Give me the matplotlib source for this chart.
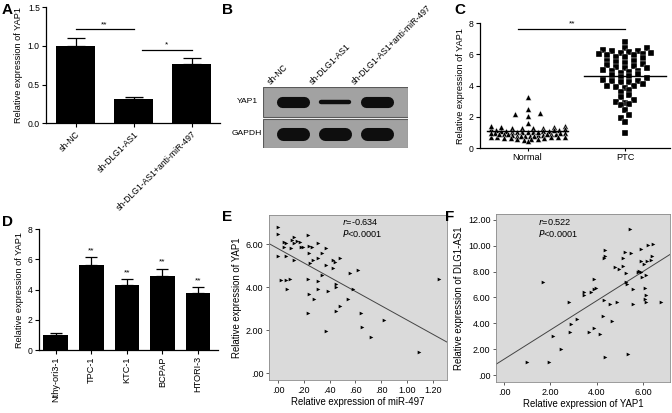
"""
Multi-panel YAP1 figure (bars, blot, scatter dot plot, correlations)
"""
import numpy as np
import matplotlib
matplotlib.use("Agg")
import matplotlib.pyplot as plt
from matplotlib.patches import Rectangle

# ---- data ----
a_groups = ["sh-NC", "sh-DLG1-AS1", "sh-DLG1-AS1+anti-miR-497"]
a_mean = [1.00, 0.31, 0.77]
a_err = [0.10, 0.035, 0.08]

blot_lanes = ["sh-NC", "sh-DLG1-AS1", "sh-DLG1-AS1+anti-miR-497"]
blot_rows = ["YAP1", "GAPDH"]
yap1_band = [1.0, 0.4, 1.0]
gapdh_band = [1.0, 1.0, 1.0]

c_groups = ["Normal", "PTC"]
c_normal = [3.28, 2.52, 2.18, 2.08, 2.22, 1.58, 1.42, 1.35, 1.30, 1.28,
            1.25, 1.25, 1.22, 1.20, 1.18, 1.15, 1.12, 1.10, 1.10, 1.08,
            1.05, 1.05, 1.02, 1.00, 1.00, 0.98, 0.95, 0.95, 0.92, 0.90,
            0.90, 0.88, 0.85, 0.85, 0.82, 0.80, 0.80, 0.78, 0.75, 0.75,
            0.72, 0.70, 0.70, 0.68, 0.65, 0.65, 0.62, 0.60, 0.58, 0.55,
            0.50, 0.42, 1.38, 1.32, 1.15, 0.98, 0.88, 0.72, 1.05, 0.92]
c_ptc = [6.78, 6.42, 6.38, 6.30, 6.22, 6.18, 6.12, 6.10, 6.05, 6.02,
         6.00, 5.98, 5.95, 5.85, 5.80, 5.75, 5.60, 5.55, 5.50, 5.45,
         5.40, 5.30, 5.25, 5.20, 5.15, 5.10, 5.00, 4.95, 4.90, 4.85,
         4.80, 4.75, 4.70, 4.60, 4.55, 4.45, 4.35, 4.30, 4.30, 4.25,
         4.20, 4.10, 4.00, 3.95, 3.90, 3.85, 3.70, 3.60, 3.40, 3.25,
         3.10, 2.95, 2.90, 2.80, 2.75, 2.45, 2.10, 1.95, 1.65, 0.98]

d_lines = ["Nthy-ori3-1", "TPC-1", "KTC-1", "BCPAP", "HTORI-3"]
d_mean = [1.00, 5.65, 4.28, 4.88, 3.77]
d_err = [0.12, 0.50, 0.40, 0.50, 0.40]

e_mir497 = [0.00, 0.00, 0.00, 0.02, 0.05, 0.05, 0.06, 0.06, 0.06, 0.07,
            0.09, 0.10, 0.11, 0.12, 0.12, 0.12, 0.15, 0.17, 0.18, 0.19,
            0.23, 0.23, 0.23, 0.24, 0.24, 0.24, 0.25, 0.26, 0.27, 0.28,
            0.31, 0.31, 0.31, 0.31, 0.34, 0.34, 0.37, 0.37, 0.37, 0.39,
            0.43, 0.43, 0.44, 0.45, 0.45, 0.45, 0.48, 0.48, 0.54, 0.56,
            0.58, 0.62, 0.64, 0.65, 0.72, 0.82, 1.09, 1.25]
e_yap1 = [6.82, 6.47, 5.46, 4.34, 5.89, 6.12, 6.08, 5.46, 4.34, 3.91,
          4.37, 5.81, 6.20, 6.33, 6.08, 5.27, 6.14, 6.12, 5.89, 5.89,
          6.43, 4.37, 2.82, 5.94, 3.69, 5.58, 5.15, 5.89, 5.27, 3.47,
          5.35, 6.05, 4.29, 3.91, 4.57, 5.58, 5.81, 5.04, 1.98, 3.83,
          5.27, 4.88, 5.16, 4.14, 4.00, 2.91, 5.35, 3.13, 3.47, 4.68,
          3.91, 4.81, 2.82, 2.16, 1.71, 2.48, 1.01, 4.37]

f_yap1 = [5.44, 6.45, 6.23, 5.91, 5.22, 5.47, 4.35, 4.36, 4.33, 5.12,
          6.40, 6.16, 5.91, 6.04, 6.35, 4.79, 4.98, 5.12, 5.25, 5.83,
          5.91, 5.94, 6.13, 5.77, 3.88, 1.67, 5.25, 5.32, 5.58, 3.97,
          3.88, 3.76, 3.45, 3.45, 6.09, 6.13, 6.09, 6.13, 5.55, 4.89,
          4.58, 4.33, 2.81, 6.78, 3.14, 2.89, 4.29, 4.68, 2.83, 3.68,
          3.90, 4.14, 2.13, 2.46, 0.99, 1.96, 4.36, 5.34]
f_dlg1 = [11.28, 10.14, 10.06, 9.73, 9.52, 9.42, 9.63, 9.16, 9.08, 9.03,
          9.16, 8.83, 8.83, 8.59, 8.90, 8.34, 8.18, 8.41, 7.85, 8.05,
          7.97, 7.61, 7.72, 8.00, 7.43, 7.23, 7.17, 7.07, 6.66, 6.76,
          6.66, 6.40, 6.40, 6.19, 6.76, 6.19, 5.91, 5.63, 5.52, 5.63,
          5.52, 5.83, 5.65, 5.65, 4.34, 3.97, 4.54, 4.21, 3.33, 3.30,
          3.66, 3.15, 2.99, 2.06, 1.03, 1.03, 1.37, 1.63]

plt.rcParams['font.family'] = ['Liberation Sans', 'DejaVu Sans']
plt.rcParams['axes.linewidth'] = 0.9

FS_TICK = 6.2
FS_LAB = 6.6


def prism_axes(ax):
    """GraphPad-like axes: left/bottom spines only"""
    for s in ("top", "right"):
        ax.spines[s].set_visible(False)
    ax.tick_params(length=3, width=0.8, labelsize=FS_TICK, pad=1.5)


def spss_axes(ax):
    """SPSS-like scatter panel with grey plot area"""
    ax.set_facecolor('#dadada')
    for s in ax.spines.values():
        s.set_color('#8a8a8a')
        s.set_linewidth(0.6)
    ax.tick_params(length=2.5, width=0.6, labelsize=FS_TICK + 0.3, pad=1.5,
                   color='#444444')


def dot_offsets(vals, binw, step, maxw):
    """Horizontal offsets for a scatter dot plot (points binned by value)"""
    vals = np.asarray(vals, dtype=float)
    offs = np.zeros(len(vals))
    bins = np.floor(vals / binw).astype(int)
    for bb in np.unique(bins):
        idx = np.where(bins == bb)[0]
        idx = idx[np.argsort(vals[idx])]
        n = len(idx)
        if n == 1:
            continue
        s = min(step, 2 * maxw / (n - 1))
        pos = (np.arange(n) - (n - 1) / 2) * s
        pos = pos[np.argsort(np.abs(pos), kind='stable')]
        offs[idx] = pos
    return offs


fig = plt.figure(figsize=(6.72, 4.13), dpi=100)

# ---- panel A ----
ax_a = fig.add_axes([0.0685, 0.7015, 0.2589, 0.2809])
xa = np.arange(len(a_groups))
ax_a.bar(xa, a_mean, width=0.67, color='black', zorder=2)
ax_a.errorbar(xa, a_mean, yerr=[np.zeros(len(a_err)), a_err], fmt='none',
              ecolor='black', elinewidth=0.9, capsize=6.5, capthick=0.9, zorder=1)
prism_axes(ax_a)
ax_a.set_xlim(-0.51, 2.49)
ax_a.set_ylim(0, 1.5)
ax_a.set_yticks([0, 0.5, 1.0, 1.5])
ax_a.set_yticklabels(["0.0", "0.5", "1.0", "1.5"])
ax_a.set_xticks(xa)
ax_a.set_xticklabels(a_groups, rotation=45, ha='right', va='top',
                     rotation_mode='anchor')
ax_a.set_ylabel("Relative expression of YAP1", fontsize=FS_LAB, labelpad=3)
ax_a.plot([0, 1], [1.215, 1.215], color='black', lw=0.9)
ax_a.text(0.5, 1.23, "**", ha='center', va='bottom', fontsize=6)
ax_a.plot([1.15, 2], [0.95, 0.95], color='black', lw=0.9)
ax_a.text(1.575, 0.965, "*", ha='center', va='bottom', fontsize=6)

# ---- panel B (western blot) ----
ax_b = fig.add_axes([0.3914, 0.641, 0.2158, 0.1477])
ax_b.set_xlim(-0.71, 2.73)
ax_b.set_ylim(0, 1)
ax_b.axis('off')
row_span = {"YAP1": (0.518, 1.0), "GAPDH": (0.0, 0.48)}
row_bands = {"YAP1": yap1_band, "GAPDH": gapdh_band}
row_lw = {"YAP1": 8.0, "GAPDH": 9.4}
for row in blot_rows:
    y0, y1 = row_span[row]
    ax_b.add_patch(Rectangle((0, y0), 1, y1 - y0, transform=ax_b.transAxes,
                             facecolor='#a2a2a2', edgecolor='#5a5a5a', lw=0.8))
    yc = (y0 + y1) / 2
    for i, v in enumerate(row_bands[row]):
        lw = row_lw[row] * v
        half = (33 - lw / 0.72) / 2 / 42.25
        ax_b.plot([i - half, i + half], [yc, yc], color='#0e0e0e', lw=lw,
                  solid_capstyle='round')
    ax_b.text(-0.109, yc, row, transform=ax_b.transAxes, ha='center',
              va='center', fontsize=6.1)
for i, lane in enumerate(blot_lanes):
    ax_b.text(i - 0.5, 1.02, lane, ha='left', va='bottom', rotation=45,
              rotation_mode='anchor', fontsize=FS_TICK, clip_on=False)

# ---- panel C (scatter dot plot) ----
ax_c = fig.add_axes([0.714, 0.6416, 0.2827, 0.3027])
c_style = [('^', 17, 0.25, 0.13, 0.38), ('s', 16, 0.32, 0.09, 0.33)]
for i, vals in enumerate([c_normal, c_ptc]):
    mk, sz, binw, step, maxw = c_style[i]
    xs = i + dot_offsets(vals, binw, step, maxw)
    ax_c.scatter(xs, vals, marker=mk, s=sz, color='black',
                 edgecolors='white', linewidths=0.25, zorder=2)
    ax_c.plot([i - 0.42, i + 0.42], [np.mean(vals)] * 2, color='black',
              lw=1.0, zorder=3)
prism_axes(ax_c)
ax_c.set_xlim(-0.49, 1.46)
ax_c.set_ylim(0, 8)
ax_c.set_yticks([0, 2, 4, 6, 8])
ax_c.set_xticks([0, 1])
ax_c.set_xticklabels(c_groups, fontsize=FS_LAB)
ax_c.tick_params(axis='x', length=2)
ax_c.set_ylabel("Relative expression of YAP1", fontsize=FS_LAB, labelpad=3)
ax_c.plot([-0.1, 1.0], [7.6, 7.6], color='black', lw=0.9, clip_on=False)
ax_c.text(0.46, 7.7, "**", ha='center', va='bottom', fontsize=6, clip_on=False)

# ---- panel D ----
ax_d = fig.add_axes([0.058, 0.1525, 0.2664, 0.2923])
xd = np.arange(len(d_lines))
ax_d.bar(xd, d_mean, width=0.69, color='black', zorder=2)
ax_d.errorbar(xd, d_mean, yerr=[np.zeros(len(d_err)), d_err], fmt='none',
              ecolor='black', elinewidth=0.9, capsize=4.4, capthick=0.9, zorder=1)
for i in range(1, len(d_lines)):
    ax_d.text(xd[i], d_mean[i] + d_err[i] + 0.2, "**", ha='center',
              va='bottom', fontsize=6)
prism_axes(ax_d)
ax_d.set_xlim(-0.47, 4.56)
ax_d.set_ylim(0, 8)
ax_d.set_yticks([0, 2, 4, 6, 8])
ax_d.set_xticks(xd)
ax_d.set_xticklabels(d_lines, rotation=90, fontsize=FS_LAB)
ax_d.set_ylabel("Relative expression of YAP1", fontsize=FS_LAB, labelpad=3)

# ---- panel E ----
ax_e = fig.add_axes([0.4003, 0.0799, 0.2649, 0.3995])
spss_axes(ax_e)
ax_e.scatter(e_mir497, e_yap1, marker='>', s=7, color='black', lw=0, zorder=3)
k, b = np.polyfit(e_mir497, e_yap1, 1)
ex = np.array([-0.07, 1.31])
ax_e.plot(ex, k * ex + b, color='#444444', lw=0.7)
ax_e.set_xlim(-0.07, 1.31)
ax_e.set_ylim(-0.31, 7.36)
ax_e.set_xticks([0, 0.2, 0.4, 0.6, 0.8, 1.0, 1.2])
ax_e.set_xticklabels([".00", ".20", ".40", ".60", ".80", "1.00", "1.20"])
ax_e.set_yticks([0, 2, 4, 6])
ax_e.set_yticklabels([".00", "2.00", "4.00", "6.00"])
ax_e.set_xlabel("Relative expression of miR-497", fontsize=6.9, labelpad=2)
ax_e.set_ylabel("Relative expression of YAP1", fontsize=6.9, labelpad=3)
ax_e.text(0.41, 0.955, "$r$=-0.634", transform=ax_e.transAxes, ha='left',
          va='center', fontsize=6.6)
ax_e.text(0.41, 0.885, "$P$<0.0001", transform=ax_e.transAxes, ha='left',
          va='center', fontsize=6.6)

# ---- panel F ----
ax_f = fig.add_axes([0.7381, 0.0751, 0.2589, 0.4068])
spss_axes(ax_f)
ax_f.scatter(f_yap1, f_dlg1, marker='>', s=7, color='black', lw=0, zorder=3)
k, b = np.polyfit(f_yap1, f_dlg1, 1)
fx = np.array([-0.35, 7.17])
ax_f.plot(fx, k * fx + b, color='#444444', lw=0.7)
ax_f.set_xlim(-0.35, 7.17)
ax_f.set_ylim(-0.52, 12.44)
ax_f.set_xticks([0, 2, 4, 6])
ax_f.set_xticklabels([".00", "2.00", "4.00", "6.00"])
ax_f.set_yticks([0, 2, 4, 6, 8, 10, 12])
ax_f.set_yticklabels([".00", "2.00", "4.00", "6.00", "8.00", "10.00", "12.00"])
ax_f.set_xlabel("Relative expression of YAP1", fontsize=6.9, labelpad=2)
ax_f.set_ylabel("Relative expression of DLG1-AS1", fontsize=6.9, labelpad=3)
ax_f.text(0.24, 0.955, "$r$=0.522", transform=ax_f.transAxes, ha='left',
          va='center', fontsize=6.6)
ax_f.text(0.24, 0.885, "$P$<0.0001", transform=ax_f.transAxes, ha='left',
          va='center', fontsize=6.6)

# ---- panel letters ----
for letter, px, py in [("A", 2, 3), ("B", 222, 3), ("C", 454, 3),
                       ("D", 2, 215), ("E", 222, 210), ("F", 445, 210)]:
    fig.text(px / 672, 1 - py / 413, letter, ha='left', va='top',
             fontsize=11, fontweight='bold')

fig.savefig("out.png", dpi=100)
plt.close(fig)
